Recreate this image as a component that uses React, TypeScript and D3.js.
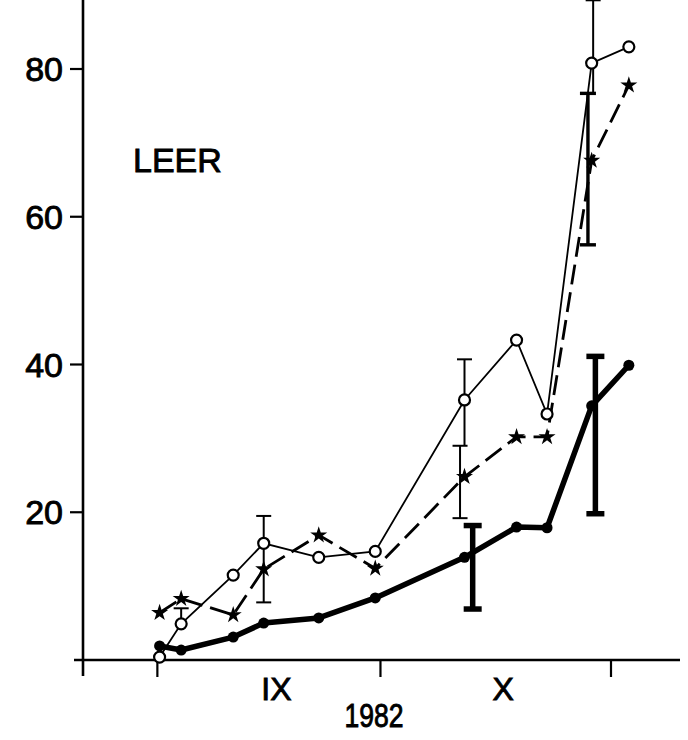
import React from "react";
import * as d3 from "d3";

// sampling dates: days since 1 September 1982
const dates = [0.3, 3.2, 10.2, 14.3, 21.7, 29.3, 41.3, 48.3, 52.4, 58.4, 63.4];
const filledSeries = [1.9, 1.35, 3.1, 5.0, 5.7, 8.4, 13.9, 18.0, 17.9, 34.4, 39.9];
const openSeries = [0.4, 4.9, 11.5, 15.8, 13.9, 14.7, 35.2, 43.3, 33.3, 80.8, 83.0];
const starSeries = [6.4, 8.3, 6.1, 12.3, 16.9, 12.4, 24.8, 30.2, 30.2, 67.6, 77.8];

// error bars: [day, low, high, topCap, bottomCap]
const thinBars: [number, number, number, boolean, boolean][] = [
  [3.2, 4.9, 7.0, true, false],
  [14.3, 7.8, 19.5, true, true],
  [41.3, 29.0, 40.7, true, false],
  [40.7, 19.2, 29.0, true, true],
  [58.6, 76.7, 89.3, true, false],
];
const mediumBars: [number, number, number][] = [[57.9, 56.2, 76.7]];
const thickBars: [number, number, number][] = [
  [42.4, 6.9, 18.2],
  [58.9, 19.8, 41.1],
];

const yTicks = [20, 40, 60, 80];
const xTickDays = [0, 30, 61];
const monthLabels = [
  { day: 16, label: "IX" },
  { day: 46.5, label: "X" },
];
const yearLabel = "1982";
const panelLabel = "LEER";

export default function App() {
  const W = 688;
  const H = 740;
  const x = d3.scaleLinear().domain([-10, 61]).range([83, 611]);
  const y = d3.scaleLinear().domain([0, 80]).range([660, 69]);
  const line = d3
    .line<[number, number]>()
    .x((d) => x(d[0]))
    .y((d) => y(d[1]));
  const mk = (vals: number[]) => dates.map((d, i) => [d, vals[i]] as [number, number]);
  const star = d3.symbol().type(d3.symbolStar).size(90)();
  const font = "'Liberation Sans', Arial, sans-serif";

  const bar = (
    key: string,
    d: number,
    lo: number,
    hi: number,
    sw: number,
    cap: number,
    top = true,
    bottom = true
  ) => (
    <g key={key} stroke="#000" strokeWidth={sw}>
      <line x1={x(d)} x2={x(d)} y1={y(lo)} y2={y(hi)} />
      {top && <line x1={x(d) - cap} x2={x(d) + cap} y1={y(hi)} y2={y(hi)} />}
      {bottom && <line x1={x(d) - cap} x2={x(d) + cap} y1={y(lo)} y2={y(lo)} />}
    </g>
  );

  const textStyle = { stroke: "#000", strokeWidth: 0.9 } as const;

  return (
    <svg
      width={W}
      height={H}
      style={{ position: "absolute", left: 0, top: 0, background: "#fff" }}
      fontFamily={font}
    >
      <rect width={W} height={H} fill="#fff" />
      {/* axes */}
      <line x1={x(-10)} x2={x(-10)} y1={0} y2={676} stroke="#000" strokeWidth={2.6} />
      <line x1={74} x2={680} y1={y(0)} y2={y(0)} stroke="#000" strokeWidth={2.4} />
      {yTicks.map((t) => (
        <g key={t}>
          <line x1={70} x2={83} y1={y(t)} y2={y(t)} stroke="#000" strokeWidth={2.2} />
          <text x={63} y={y(t) + 12} fontSize={34} textAnchor="end" {...textStyle}>
            {t}
          </text>
        </g>
      ))}
      {xTickDays.map((t) => (
        <line key={t} x1={x(t)} x2={x(t)} y1={y(0)} y2={677} stroke="#000" strokeWidth={2.2} />
      ))}
      {monthLabels.map((m) => (
        <text key={m.label} x={x(m.day)} y={700} fontSize={32} textAnchor="middle" {...textStyle}>
          {m.label}
        </text>
      ))}
      <text
        x={374}
        y={727}
        fontSize={33}
        textAnchor="middle"
        textLength={59}
        lengthAdjust="spacingAndGlyphs"
        {...textStyle}
      >
        {yearLabel}
      </text>
      <text x={133} y={172} fontSize={34} {...textStyle}>
        {panelLabel}
      </text>

      {/* error bars */}
      {thinBars.map((b, i) => bar("t" + i, b[0], b[1], b[2], 2, 7.5, b[3], b[4]))}
      {mediumBars.map((b, i) => bar("m" + i, b[0], b[1], b[2], 3.4, 8))}
      {thickBars.map((b, i) => bar("k" + i, b[0], b[1], b[2], 5.5, 9))}

      {/* lines */}
      <path d={line(mk(openSeries)) || ""} fill="none" stroke="#000" strokeWidth={1.8} />
      <path
        d={line(mk(starSeries)) || ""}
        fill="none"
        stroke="#000"
        strokeWidth={2.8}
        strokeDasharray="20 8"
      />
      <path
        d={line(mk(filledSeries)) || ""}
        fill="none"
        stroke="#000"
        strokeWidth={5.5}
        strokeLinejoin="round"
      />

      {/* markers */}
      {mk(filledSeries).map((p, i) => (
        <circle key={"f" + i} cx={x(p[0])} cy={y(p[1])} r={5.5} fill="#000" />
      ))}
      {mk(openSeries).map((p, i) => (
        <circle
          key={"o" + i}
          cx={x(p[0])}
          cy={y(p[1])}
          r={5.5}
          fill="#fff"
          stroke="#000"
          strokeWidth={2.2}
        />
      ))}
      {mk(starSeries).map((p, i) => (
        <path key={"s" + i} d={star || ""} transform={`translate(${x(p[0])},${y(p[1])})`} fill="#000" />
      ))}
    </svg>
  );
}
